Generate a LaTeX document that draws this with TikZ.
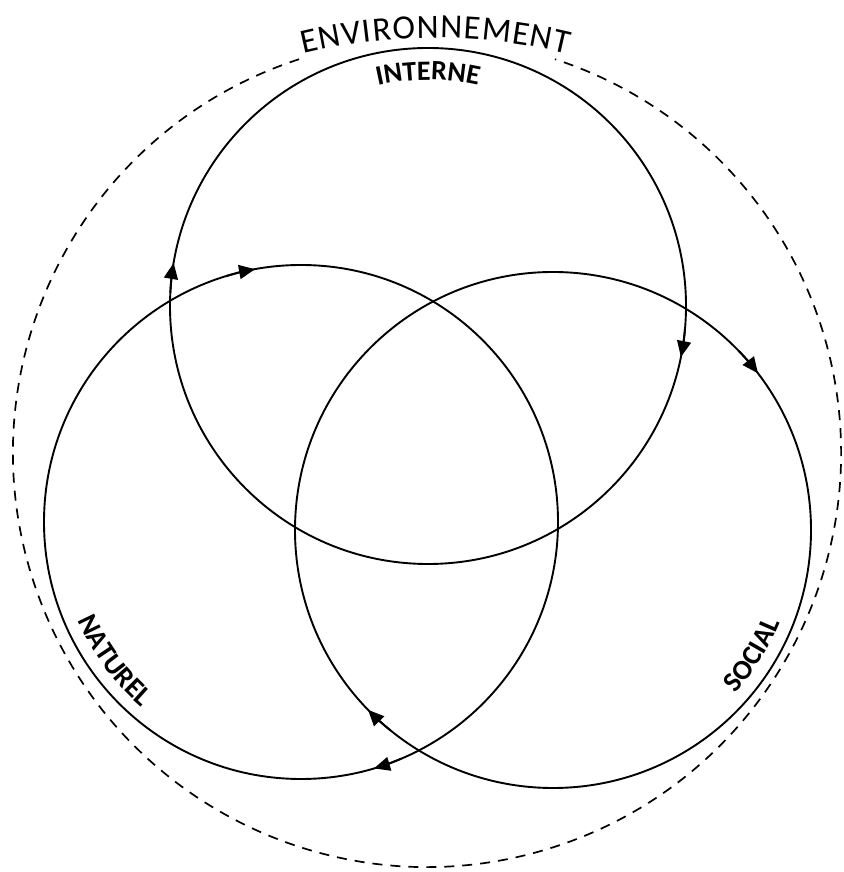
\documentclass[tikz,border=0pt]{standalone}
\usepackage{fontspec}
\setmainfont{Carlito}
\usetikzlibrary{arrows.meta,decorations.text}
\begin{document}
\begin{tikzpicture}[x=1pt,y=1pt]
\tikzset{
  ring/.style={line width=1.9pt},
  flow/.style={line width=1.9pt,-{Triangle[length=16pt,width=14pt]}},
  envdash/.style={line width=1.7pt,dash pattern=on 10pt off 8pt},
  bent/.style={decorate,decoration={text along path,text align=center,text={|\bfseries\fontsize{28}{28}\selectfont|#1}}}
}
\useasboundingbox (0,0) rectangle (843,872);
\coordinate (E) at (427,419);
\coordinate (ET) at (435,274);
\coordinate (T) at (428,566);
\coordinate (L) at (301,350);
\coordinate (R) at (553,342);
% outer dashed environment circle
\draw[envdash] ([shift={(108:414)}]E) arc[start angle=108,end angle=432,radius=414];
% three circles
\draw[ring] (T) circle[radius=258];
\draw[ring] (L) circle[radius=257];
\draw[ring] (R) circle[radius=258];
% arrows
\draw[flow] ([shift={(177:258)}]T) arc[start angle=177,end angle=170.4,radius=258];
\draw[flow] ([shift={(-5:258)}]T) arc[start angle=-5,end angle=-11.4,radius=258];
\draw[flow] ([shift={(107:257)}]L) arc[start angle=107,end angle=100.3,radius=257];
\draw[flow] ([shift={(-67:257)}]L) arc[start angle=-67,end angle=-73.5,radius=257];
\draw[flow] ([shift={(44:258)}]R) arc[start angle=44,end angle=37.4,radius=258];
\draw[flow] ([shift={(-129:258)}]R) arc[start angle=-129,end angle=-135.8,radius=258];
% labels
\path[decorate,decoration={text along path,text align={fit to path},text={|\fontsize{34}{34}\selectfont|ENVIRONNEMENT}}]
  ([shift={(103.6:560)}]ET) arc[start angle=103.6,end angle=76.3,radius=560];
\path[bent=INTERNE] ([shift={(125:226)}]T) arc[start angle=125,end angle=55,radius=226];
\path[bent=NATUREL] ([shift={(190:244)}]L) arc[start angle=190,end angle=243,radius=244];
\path[bent=SOCIAL] ([shift={(-60:245)}]R) arc[start angle=-60,end angle=-4,radius=245];
\end{tikzpicture}
\end{document}
